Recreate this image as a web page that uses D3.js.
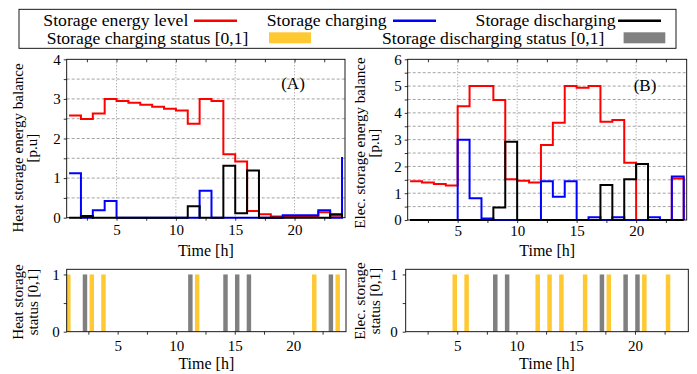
<!DOCTYPE html>
<html>
<head>
<meta charset="utf-8">
<script src="https://cdn.jsdelivr.net/npm/d3@7"></script>
<style>
  body { margin: 0; background: #fff; }
  svg { font-family: "Liberation Serif", "Times New Roman", serif; }
</style>
</head>
<body>
<svg id="chart" width="697" height="374"></svg>
<script>
// hourly values (hour 1..24)
var hours = d3.range(1, 25);

var heatLevel     = [2.58, 2.49, 2.63, 3.00, 2.95, 2.90, 2.85, 2.80, 2.75, 2.71, 2.37, 3.00,
                     2.95, 1.60, 1.42, 0.17, 0.09, 0.03, 0.02, 0.02, 0.02, 0.14, 0.05, 0.05];
var heatCharge    = [1.12, 0, 0.19, 0.42, 0, 0, 0, 0, 0, 0, 0, 0.68,
                     0, 0, 0, 0, 0, 0, 0.06, 0.06, 0.06, 0.19, 0, 1.53];
var heatDischarge = [0, 0.04, 0, 0, 0, 0, 0, 0, 0, 0, 0.29, 0,
                     0, 1.31, 0.11, 1.19, 0, 0, 0, 0, 0, 0, 0.09, 0];

var elecLevel     = [1.45, 1.40, 1.34, 1.29, 4.25, 5.00, 5.00, 4.48, 1.52, 1.47, 1.40, 2.80,
                     3.63, 5.00, 4.94, 5.00, 3.67, 3.73, 2.14, 0, 0, 0, 1.55, 0];
var elecCharge    = [0, 0, 0, 0, 3.00, 0.81, 0.06, 0, 0, 0, 0, 1.45,
                     0.87, 1.45, 0, 0.10, 0, 0.10, 0, 0, 0.10, 0, 1.62, 0];
var elecDischarge = [0, 0, 0, 0, 0, 0, 0, 0.47, 2.92, 0, 0, 0,
                     0, 0, 0, 0, 1.31, 0, 1.52, 2.09, 0, 0, 0, 0];

// on/off status [0,1]
var heatChargeOn    = [1,0,1,1,0,0,0,0,0,0,0,1, 0,0,0,0,0,0,0,0,0,1,0,1];
var heatDischargeOn = [0,1,0,0,0,0,0,0,0,0,1,0, 0,1,1,1,0,0,0,0,0,0,1,0];
var elecChargeOn    = [0,0,0,0,1,1,0,0,0,0,0,1, 1,1,0,1,0,1,0,0,1,0,1,0];
var elecDischargeOn = [0,0,0,0,0,0,0,1,1,0,0,0, 0,0,0,0,1,0,1,1,0,0,0,0];

var seriesNames = ["Storage energy level", "Storage charging", "Storage discharging"];
var statusNames = ["Storage charging status [0,1]", "Storage discharging status [0,1]"];

var RED = "#ff0000", BLUE = "#0000ff", BLACK = "#000000";
var ORANGE = "#ffc933", GREY = "#808080";

var svg = d3.select("#chart");
svg.append("rect").attr("width", 697).attr("height", 374).attr("fill", "#fff");

function styleAxis(sel, size){
    sel.attr("font-family", null).attr("font-size", size);
    sel.select(".domain").remove();
    sel.selectAll(".tick line").attr("stroke", "#000").attr("stroke-width", 0.8);
    sel.selectAll(".tick text").attr("fill", "#000");
}

function drawBalance(p){
    var g = svg.append("g");
    var x = d3.scaleLinear().domain([0.8, 24.25]).range([p.left, p.right]);
    var y = d3.scaleLinear().domain([0, p.ymax]).range([p.bottom, p.top]);

    // grid
    g.selectAll("line.hgrid")
        .data(d3.range(0.5, p.ymax, 0.5))
        .join("line").attr("class", "hgrid")
        .attr("x1", p.left).attr("x2", p.right)
        .attr("y1", d => y(d)).attr("y2", d => y(d))
        .attr("stroke", "#8c8c8c").attr("stroke-width", 0.8)
        .attr("stroke-dasharray", "3,2");
    g.selectAll("line.vgrid")
        .data([5, 10, 15, 20])
        .join("line").attr("class", "vgrid")
        .attr("x1", d => x(d)).attr("x2", d => x(d))
        .attr("y1", p.top).attr("y2", p.bottom)
        .attr("stroke", "#777").attr("stroke-width", 0.8)
        .attr("stroke-dasharray", "1,2");

    g.append("clipPath").attr("id", p.id + "clip")
        .append("rect")
        .attr("x", p.left).attr("y", p.top - 2)
        .attr("width", p.right - p.left).attr("height", p.bottom - p.top + 4);

    var line = d3.line()
        .x((d, i) => x(hours[i]))
        .y(d => y(d))
        .curve(d3.curveStepAfter);

    var series = [[p.level, RED], [p.charge, BLUE], [p.discharge, BLACK]];
    g.append("g").attr("clip-path", "url(#" + p.id + "clip)")
        .selectAll("path")
        .data(series)
        .join("path")
        .attr("d", d => line(d[0]))
        .attr("fill", "none")
        .attr("stroke", d => d[1])
        .attr("stroke-width", 2);

    g.append("rect")
        .attr("x", p.left).attr("y", p.top)
        .attr("width", p.right - p.left).attr("height", p.bottom - p.top)
        .attr("fill", "none").attr("stroke", "#000").attr("stroke-width", 0.9);

    var xt = d3.range(2.5, 24, 2.5);
    g.append("g").attr("transform", "translate(0," + p.bottom + ")")
        .call(d3.axisBottom(x).tickValues(xt).tickSize(3).tickPadding(p.xPad)
            .tickFormat(d => d % 5 === 0 ? d : ""))
        .call(s => styleAxis(s, 15));
    g.append("g").attr("transform", "translate(0," + p.top + ")")
        .call(d3.axisBottom(x).tickValues(xt).tickSize(3).tickFormat(""))
        .call(s => styleAxis(s, 15));
    g.append("g").attr("transform", "translate(" + p.left + ",0)")
        .call(d3.axisLeft(y).tickValues(d3.range(0, p.ymax + 0.01, 0.5)).tickSize(3).tickPadding(3)
            .tickFormat(d => Number.isInteger(d) ? d : ""))
        .call(s => styleAxis(s, 15));

    g.append("text")
        .attr("x", (p.left + p.right) / 2).attr("y", 256)
        .attr("text-anchor", "middle").attr("font-size", 16)
        .text("Time [h]");

    p.ylabel.forEach((t, i) => {
        g.append("text")
            .attr("transform", "translate(" + p.labelX[i] + "," + p.labelY + ") rotate(-90)")
            .attr("text-anchor", "middle").attr("dominant-baseline", "central")
            .attr("font-size", 15)
            .text(t);
    });

    g.append("text")
        .attr("x", p.tagX).attr("y", p.tagY)
        .attr("text-anchor", "middle").attr("dominant-baseline", "central")
        .attr("font-size", 17)
        .text(p.tag);
}

function drawStatus(p){
    var g = svg.append("g");
    var x = d3.scaleLinear().domain([0.65, 24.5]).range([p.left, p.right]);
    var y = d3.scaleLinear().domain([0, 1.09]).range([p.bottom, p.top]);

    g.append("clipPath").attr("id", p.id + "clip")
        .append("rect")
        .attr("x", p.left).attr("y", p.top)
        .attr("width", p.right - p.left).attr("height", p.bottom - p.top);

    var bars = [];
    hours.forEach((h, i) => {
        if (p.chargeOn[i]) bars.push({x0: h - 0.4, x1: h - 0.02, v: p.chargeOn[i], c: ORANGE});
        if (p.dischargeOn[i]) bars.push({x0: h + 0.02, x1: h + 0.4, v: p.dischargeOn[i], c: GREY});
    });
    g.append("g").attr("clip-path", "url(#" + p.id + "clip)")
        .selectAll("rect")
        .data(bars)
        .join("rect")
        .attr("x", d => x(d.x0))
        .attr("width", d => x(d.x1) - x(d.x0))
        .attr("y", d => y(d.v))
        .attr("height", d => y(0) - y(d.v))
        .attr("fill", d => d.c);

    g.append("rect")
        .attr("x", p.left).attr("y", p.top)
        .attr("width", p.right - p.left).attr("height", p.bottom - p.top)
        .attr("fill", "none").attr("stroke", "#000").attr("stroke-width", 0.9);

    g.append("g").attr("transform", "translate(0," + p.bottom + ")")
        .call(d3.axisBottom(x).tickValues(d3.range(2.5, 24, 2.5)).tickSize(3).tickPadding(6)
            .tickFormat(d => d % 5 === 0 ? d : ""))
        .call(s => styleAxis(s, 15));
    g.append("g").attr("transform", "translate(" + p.left + ",0)")
        .call(d3.axisLeft(y).tickValues([0, 0.5, 1]).tickSize(3).tickPadding(p.yPad)
            .tickFormat(d => Number.isInteger(d) ? d : ""))
        .call(s => styleAxis(s, 15));

    g.append("text")
        .attr("x", (p.left + p.right) / 2).attr("y", 369)
        .attr("text-anchor", "middle").attr("font-size", 16)
        .text("Time [h]");

    p.ylabel.forEach((t, i) => {
        g.append("text")
            .attr("transform", "translate(" + p.labelX[i] + "," + p.labelY + ") rotate(-90)")
            .attr("text-anchor", "middle").attr("dominant-baseline", "central")
            .attr("font-size", 15)
            .text(t);
    });
}

drawBalance({id: "a", left: 66.7, right: 345, top: 59.3, bottom: 217.7, ymax: 4,
    level: heatLevel, charge: heatCharge, discharge: heatDischarge, xPad: 4,
    ylabel: ["Heat storage energy balance", "[p.u]"], labelX: [18, 32], labelY: 148,
    tag: "(A)", tagX: 293, tagY: 83});
drawBalance({id: "b", left: 407.7, right: 686.7, top: 59.3, bottom: 220, ymax: 6,
    level: elecLevel, charge: elecCharge, discharge: elecDischarge, xPad: 2,
    ylabel: ["Elec. storage energy balance", "[p.u]"], labelX: [360, 374], labelY: 143,
    tag: "(B)", tagX: 645, tagY: 85});

drawStatus({id: "c", left: 66.7, right: 346, top: 269.3, bottom: 331.7, yPad: 4,
    chargeOn: heatChargeOn, dischargeOn: heatDischargeOn,
    ylabel: ["Heat storage", "status [0,1]"], labelX: [18, 33], labelY: 302});
drawStatus({id: "d", left: 405.7, right: 688.3, top: 269.3, bottom: 331.7, yPad: 5,
    chargeOn: elecChargeOn, dischargeOn: elecDischargeOn,
    ylabel: ["Elec. storage", "status [0,1]"], labelX: [360, 375], labelY: 301});

// legend
var legend = svg.append("g");
legend.append("rect")
    .attr("x", 19).attr("y", 9.3).attr("width", 657).attr("height", 39)
    .attr("fill", "#fff").attr("stroke", "#000").attr("stroke-width", 0.9);

var lineKeys = [
    {tx: 43.3, len: 145, x0: 194, x1: 237, c: RED},
    {tx: 266.7, len: 120, x0: 393, x1: 436, c: BLUE},
    {tx: 475.6, len: 140, x0: 618, x1: 661, c: BLACK}
];
lineKeys.forEach((k, i) => {
    legend.append("text").attr("x", k.tx).attr("y", 25.8)
        .attr("font-size", 16.5).attr("textLength", k.len).attr("lengthAdjust", "spacingAndGlyphs")
        .text(seriesNames[i]);
    legend.append("line").attr("x1", k.x0).attr("x2", k.x1).attr("y1", 20.7).attr("y2", 20.7)
        .attr("stroke", k.c).attr("stroke-width", 2.6);
});
var boxKeys = [
    {tx: 46.7, len: 201.6, x0: 269, x1: 311, c: ORANGE},
    {tx: 382, len: 222.4, x0: 623.6, x1: 665.3, c: GREY}
];
boxKeys.forEach((k, i) => {
    legend.append("text").attr("x", k.tx).attr("y", 43.5)
        .attr("font-size", 16.5).attr("textLength", k.len).attr("lengthAdjust", "spacingAndGlyphs")
        .text(statusNames[i]);
    legend.append("rect").attr("x", k.x0).attr("y", 32.3)
        .attr("width", k.x1 - k.x0).attr("height", 11)
        .attr("fill", k.c);
});
</script>
</body>
</html>
